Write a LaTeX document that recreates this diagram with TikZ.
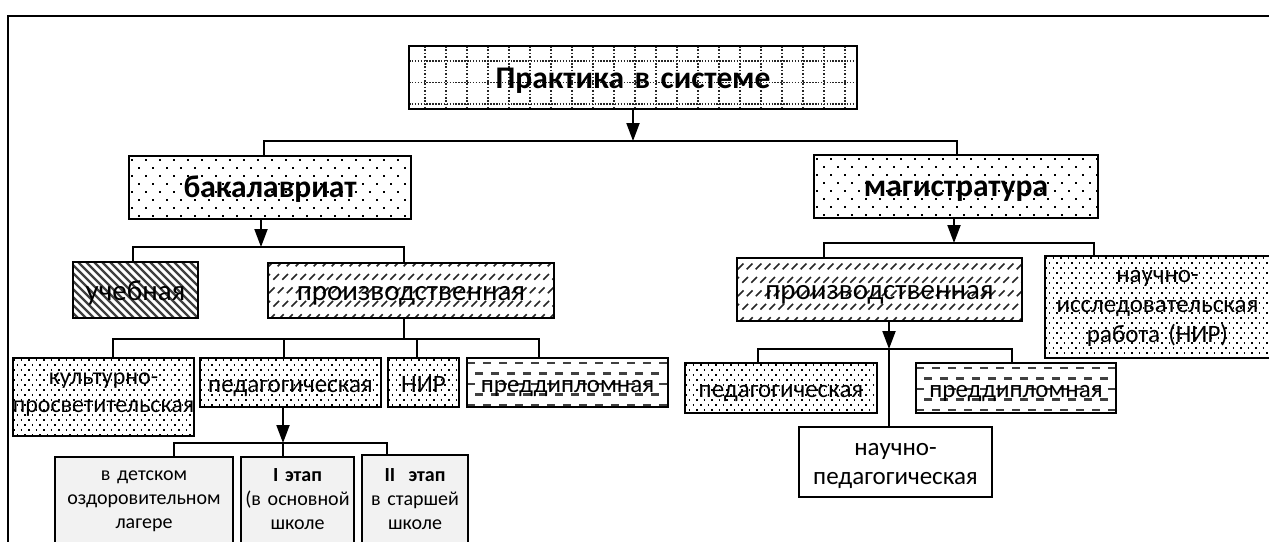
\documentclass[tikz,border=0pt]{standalone}
\usepackage{fontspec}
\setmainfont{Carlito}
\usetikzlibrary{arrows.meta,backgrounds}
\definecolor{lg}{RGB}{242,242,242}
\newcommand\fitc[1]{\makebox[\linewidth][c]{#1}}
\newcommand\zzbegin[2]{\begin{scope}[on background layer]\begin{scope}\clip (#1.north west) rectangle (#1.south east);\begin{scope}[shift={(#1.#2)}]}
\newcommand\zzend{\end{scope}\end{scope}\end{scope}}
\newcommand\zzgrid[1]{\zzbegin{#1}{north west}
  \foreach \qa in {0,...,21}{
    \draw[black!85, line width=1.5pt, dash pattern=on 1.5pt off 1.9pt] (16+21*\qa,0) -- (16+21*\qa,80);}
  \foreach \qa in {0,...,3}{
    \draw[black!85, line width=1.5pt, dash pattern=on 1.5pt off 1.4pt] (0,15+21.5*\qa) -- (470,15+21.5*\qa);}
  \zzend}
\newcommand\zzdense[1]{\zzbegin{#1}{north west}
  \foreach \qa in {0,2,...,22}{
    \draw[black, line width=1.7pt, dash pattern=on 1.7pt off 5.8pt] (0,\qa*5+2) -- (480,\qa*5+2);}
  \foreach \qa in {1,3,...,21}{
    \draw[black, line width=1.7pt, dash pattern=on 1.7pt off 5.8pt] (3.75,\qa*5+2) -- (480,\qa*5+2);}
  \zzend}
\newcommand\zzsparse[1]{\zzbegin{#1}{north west}
  \foreach \qa in {0,2,...,10}{
    \draw[black, line width=1.9pt, dash pattern=on 1.9pt off 12.1pt] (2,\qa*8+4) -- (480,\qa*8+4);}
  \foreach \qa in {1,3,...,9}{
    \draw[black, line width=1.9pt, dash pattern=on 1.9pt off 12.1pt] (9,\qa*8+4) -- (480,\qa*8+4);}
  \zzend}
\newcommand\zznw[1]{\zzbegin{#1}{north west}
  \foreach \qa in {0,...,35}{
    \draw[black!75, line width=2.2pt] (-80+8*\qa,-5) -- (10+8*\qa,85);}
  \zzend}
\newcommand\zzne[1]{\zzbegin{#1}{south west}
  \foreach \qa in {0,...,50}{
    \draw[black!85, line width=1.7pt, dash pattern=on 8pt off 11pt] (-80+9*\qa,2) -- (20+9*\qa,-98);}
  \zzend}
\newcommand\zzhd[1]{\zzbegin{#1}{north west}
  \foreach \qa in {0,2,4}{
    \draw[black!75, line width=2.2pt, dash pattern=on 8pt off 8pt] (0,5+10.5*\qa) -- (480,5+10.5*\qa);}
  \foreach \qa in {1,3,5}{
    \draw[black!75, line width=2.2pt, dash pattern=on 8pt off 8pt] (8,5+10.5*\qa) -- (480,5+10.5*\qa);}
  \zzend}
\tikzset{
  bx/.style={draw=black, line width=2pt, inner sep=0pt, outer sep=0pt, anchor=north west, align=center},
  hd/.style={font=\bfseries\fontsize{31.5}{36}\selectfont},
  lvtwo/.style={font=\fontsize{29}{33}\selectfont},
  lvthree/.style={font=\fontsize{25}{29}\selectfont},
  lvfour/.style={font=\fontsize{20}{24}\selectfont},
  ln/.style={line width=2pt, black},
  arr/.style={line width=2pt, black, -{Triangle[length=18pt,width=13pt]}}
}
\begin{document}
\begin{tikzpicture}[x=1pt,y=-1pt]
\useasboundingbox (0,0) rectangle (1269,541);
\begin{scope}[on background layer]
\fill[white] (0,0) rectangle (1269,541);
\end{scope}
\clip (0,0) rectangle (1269,541);
\draw[line width=2.4pt] (8,560) -- (8,16) -- (1290,16);

% level 0 and 1
\node[bx, hd, text width=448pt, text height=42pt, text depth=21pt] (m) at (409,46) {Практика в системе};
\node[bx, hd, text width=282pt, text height=41pt, text depth=22pt] (b) at (129,156) {бакалавриат};
\node[bx, hd, text width=284pt, text height=41pt, text depth=22pt] (g) at (814,155) {магистратура};

% level 2
\node[bx, lvtwo, text width=125pt, text height=38pt, text depth=18pt] (u) at (73,262) {учебная};
\node[bx, lvtwo, text width=286pt, text height=37pt, text depth=18pt] (p1) at (268,263) {производственная};
\node[bx, lvtwo, text width=285pt, text height=41pt, text depth=22pt] (p2) at (737,258) {производственная};
\node[bx, font=\fontsize{25}{30}\selectfont, text width=225pt, text height=26pt, text depth=76pt] (nir2) at (1045,256) {научно-\\исследовательская\\работа (НИР)};

% level 3 left
\node[bx, font=\fontsize{24}{28}\selectfont, text width=181pt, text height=26pt, text depth=52pt] (k) at (13,358) {культурно-\\\fitc{просветительская}};
\node[bx, lvthree, text width=181pt, text height=34pt, text depth=15pt] (pd) at (200,358) {педагогическая};
\node[bx, lvthree, text width=71pt, text height=34pt, text depth=15pt] (n) at (388,358) {НИР};
\node[bx, lvthree, text width=201pt, text height=34pt, text depth=15pt] (pre) at (467,358) {преддипломная};

% level 3 right
\node[bx, lvthree, text width=192pt, text height=34pt, text depth=16pt] (pd2) at (685,363) {педагогическая};
\node[bx, lvthree, text width=200pt, text height=34pt, text depth=16pt] (pre2) at (916,363) {преддипломная};
\node[bx, fill=white, lvthree, text width=193pt, text height=28pt, text depth=42pt] (np) at (799,427) {научно-\\педагогическая};

% level 4
\node[bx, fill=lg, line width=1.6pt, lvfour, text width=178pt, text height=23pt, text depth=80pt] (d) at (55,457) {в детском\\оздоровительном\\лагере};
\node[bx, fill=lg, line width=1.6pt, lvfour, text width=113pt, text height=24pt, text depth=80pt] (i) at (241,457) {\textbf{I этап}\\\fitc{(в основной}\\школе};
\node[bx, fill=lg, line width=1.6pt, lvfour, text width=106pt, text height=26pt, text depth=80pt] (ii) at (362,455) {\textbf{II\ \ этап}\\в старшей\\школе};

% fill patterns (behind the boxes)
\zzgrid{m}
\zzsparse{b}
\zzsparse{g}
\zznw{u}
\zzne{p1}
\zzne{p2}
\zzdense{nir2}
\zzdense{k}
\zzdense{pd}
\zzdense{n}
\zzhd{pre}
\zzdense{pd2}
\zzhd{pre2}

% junction coordinates
\coordinate (jt) at (633,141);
\coordinate (j1) at (264,141);
\coordinate (j2) at (957,141);
\coordinate (jb) at (261,247);
\coordinate (j3) at (133,247);
\coordinate (j4) at (404,247);
\coordinate (j5) at (404,339);
\coordinate (j6) at (113,339);
\coordinate (j7) at (284,339);
\coordinate (j8) at (417,339);
\coordinate (j9) at (539,339);
\coordinate (jp) at (283,443);
\coordinate (j10) at (174,443);
\coordinate (j11) at (387,443);
\coordinate (jg) at (954,243);
\coordinate (j12) at (824,243);
\coordinate (j13) at (1094,243);
\coordinate (jq) at (889,349);
\coordinate (j14) at (758,349);
\coordinate (j15) at (1012,349);

% connectors
\draw[arr] (m.south -| jt) -- (jt);
\draw[ln] (b.north -| j1) -- (j1) -- (j2) -- (g.north -| j2);
\draw[arr] (b.south -| jb) -- (jb);
\draw[ln] (u.north -| j3) -- (j3) -- (j4) -- (p1.north -| j4);
\draw[ln] (p1.south -| j5) -- (j5);
\draw[ln] (k.north -| j6) -- (j6) -- (j9) -- (pre.north -| j9);
\draw[ln] (pd.north -| j7) -- (j7);
\draw[ln] (n.north -| j8) -- (j8);
\draw[arr] (pd.south -| jp) -- (jp);
\draw[ln] (d.north -| j10) -- (j10) -- (j11) -- (ii.north -| j11);
\draw[ln] (jp) -- (i.north -| jp);
\draw[arr] (g.south -| jg) -- (jg);
\draw[ln] (p2.north -| j12) -- (j12) -- (j13) -- (nir2.north -| j13);
\draw[arr] (p2.south -| jq) -- (jq);
\draw[ln] (pd2.north -| j14) -- (j14) -- (j15) -- (pre2.north -| j15);
\draw[ln] (jq) -- (np.north -| jq);
\end{tikzpicture}
\end{document}
